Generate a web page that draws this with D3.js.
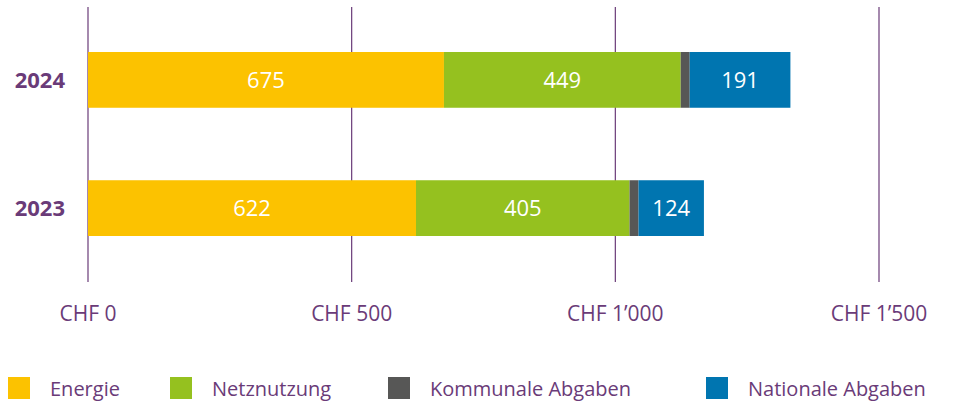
<!DOCTYPE html>
<html><head><meta charset="utf-8">
<script src="https://cdn.jsdelivr.net/npm/d3@7"></script>
<style>body{margin:0;background:#fff;font-family:"Open Sans",sans-serif;}</style>
</head><body><div id="chart"></div>
<script>
var years = ["2024", "2023"];
var seriesNames = ["Energie", "Netznutzung", "Kommunale Abgaben", "Nationale Abgaben"];
var energie = [675, 622];
var netz = [449, 405];
var kommunal = [17, 17];
var national = [191, 124];
var ticks = [0, 500, 1000, 1500];
var tickLabels = ["CHF 0", "CHF 500", "CHF 1\u2019000", "CHF 1\u2019500"];
var colors = ["#fcc200", "#95c11f", "#575756", "#0075b0"];
var purple = "#6a3b78";

var w = 960, h = 407;
var svg = d3.select("#chart").append("svg").attr("width", w).attr("height", h);

var x = d3.scaleLinear().domain([0, 1500]).range([88, 879]);
var y = d3.scaleBand().domain(years).range([34, 254]).paddingInner(0.78).paddingOuter(0.08);
y = d3.scaleBand().domain(years).range([52, 236]).paddingInner(52 / 184 * 2 / (1 + 52 / 184 * 0)).paddingOuter(0);
// bars: 66px tall, gap 52
y = d3.scaleBand().domain(years).range([52, 236]).paddingInner(52 / 92);

// grid
svg.selectAll(".grid").data(ticks).enter().append("line")
    .attr("x1", d => x(d)).attr("x2", d => x(d))
    .attr("y1", 7).attr("y2", 282)
    .attr("stroke", purple).attr("stroke-width", 1.2);

svg.selectAll(".tick").data(ticks).enter().append("text")
    .attr("x", d => x(d)).attr("y", 321)
    .attr("text-anchor", "middle").attr("fill", purple)
    .attr("font-size", 21)
    .text((d, i) => tickLabels[i]);

var rows = years.map(function (yr, i) {
    var vals = [energie[i], netz[i], kommunal[i], national[i]];
    var acc = 0;
    return vals.map(function (v, j) {
        var s = {year: yr, v: v, x0: acc, x1: acc + v, j: j};
        acc += v;
        return s;
    });
});

rows.forEach(function (segs) {
    var g = svg.append("g");
    g.selectAll("rect").data(segs).enter().append("rect")
        .attr("x", d => x(d.x0)).attr("width", d => x(d.x1) - x(d.x0))
        .attr("y", d => y(d.year)).attr("height", y.bandwidth())
        .attr("fill", d => colors[d.j]);
    g.selectAll("text").data(segs.filter(d => d.j != 2)).enter().append("text")
        .attr("x", d => (x(d.x0) + x(d.x1)) / 2)
        .attr("y", d => y(d.year) + y.bandwidth() / 2 + 8)
        .attr("text-anchor", "middle").attr("fill", "#fff")
        .attr("font-size", 22)
        .text(d => d.v);
});

svg.selectAll(".year").data(years).enter().append("text")
    .attr("x", 65).attr("y", d => y(d) + y.bandwidth() / 2 + 8)
    .attr("text-anchor", "end").attr("fill", purple)
    .attr("font-size", 22).attr("font-weight", "bold")
    .text(d => d);

var legendX = [8, 170, 388, 706];
var lg = svg.selectAll(".leg").data(seriesNames).enter().append("g")
    .attr("transform", (d, i) => "translate(" + legendX[i] + ",377)");
lg.append("rect").attr("width", 22).attr("height", 22).attr("fill", (d, i) => colors[i]);
lg.append("text").attr("x", 42).attr("y", 19).attr("fill", purple)
    .attr("font-size", 20).text(d => d);
</script>
</body></html>
